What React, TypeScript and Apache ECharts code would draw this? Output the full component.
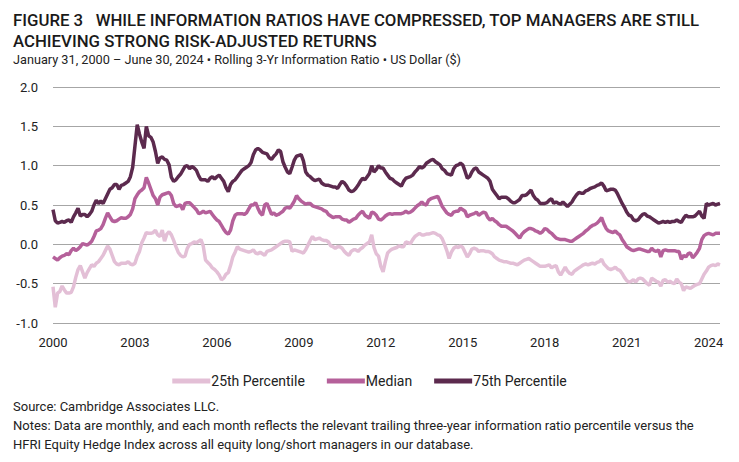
import React, { useEffect, useRef } from "react";
import * as echarts from "echarts";

const START_YEAR = 2000;
const END_YEAR = 2024;
const END_MONTH = 6;

// Rolling 3-yr information ratio, monthly Jan 2000 – Jun 2024
const p75: number[] = [
  0.44, 0.30, 0.27, 0.28, 0.29, 0.28, 0.30, 0.31, 0.28, 0.35, 0.40, 0.46,
  0.36, 0.38, 0.38, 0.35, 0.38, 0.42, 0.50, 0.56, 0.52, 0.55, 0.52, 0.58,
  0.64, 0.70, 0.72, 0.76, 0.76, 0.70, 0.75, 0.76, 0.78, 0.80, 0.86, 0.98,
  1.25, 1.52, 1.40, 1.30, 1.22, 1.50, 1.38, 1.36, 1.30, 1.18, 1.03, 1.10,
  1.11, 1.08, 1.07, 1.01, 0.85, 0.80, 0.82, 0.86, 0.89, 0.94, 0.99, 1.00,
  0.96, 0.99, 0.97, 0.94, 0.87, 0.82, 0.82, 0.82, 0.80, 0.84, 0.86, 0.83,
  0.86, 0.88, 0.84, 0.80, 0.72, 0.67, 0.76, 0.80, 0.82, 0.86, 0.90, 0.94,
  0.96, 0.98, 1.00, 1.04, 1.14, 1.20, 1.22, 1.20, 1.17, 1.16, 1.15, 1.10,
  1.08, 1.12, 1.15, 1.20, 1.18, 1.05, 0.98, 0.92, 0.90, 0.98, 1.07, 1.12,
  1.13, 1.14, 1.06, 0.92, 0.88, 0.86, 0.83, 0.81, 0.82, 0.83, 0.78, 0.76,
  0.75, 0.75, 0.74, 0.73, 0.73, 0.71, 0.76, 0.80, 0.78, 0.74, 0.69, 0.67,
  0.68, 0.71, 0.75, 0.80, 0.84, 0.82, 0.86, 0.90, 1.00, 0.92, 0.95, 1.00,
  0.97, 0.97, 0.92, 0.88, 0.84, 0.83, 0.80, 0.78, 0.76, 0.74, 0.80, 0.84,
  0.85, 0.86, 0.88, 0.92, 0.95, 0.99, 0.97, 0.99, 1.03, 1.05, 1.07, 1.08,
  1.05, 1.03, 1.01, 0.96, 0.94, 0.90, 0.89, 0.88, 0.96, 1.00, 1.01, 1.03,
  1.01, 0.93, 0.84, 0.86, 0.92, 0.96, 0.97, 0.92, 0.90, 0.88, 0.86, 0.84,
  0.80, 0.70, 0.66, 0.62, 0.58, 0.60, 0.60, 0.60, 0.58, 0.55, 0.53, 0.53,
  0.55, 0.57, 0.62, 0.62, 0.63, 0.66, 0.69, 0.62, 0.58, 0.56, 0.52, 0.52,
  0.52, 0.53, 0.56, 0.58, 0.52, 0.54, 0.52, 0.51, 0.54, 0.51, 0.48, 0.51,
  0.54, 0.59, 0.63, 0.66, 0.65, 0.65, 0.68, 0.69, 0.71, 0.72, 0.73, 0.75,
  0.76, 0.78, 0.74, 0.68, 0.69, 0.70, 0.70, 0.69, 0.64, 0.58, 0.52, 0.47,
  0.41, 0.37, 0.36, 0.31, 0.30, 0.31, 0.35, 0.38, 0.39, 0.36, 0.35, 0.33,
  0.31, 0.29, 0.27, 0.28, 0.29, 0.28, 0.29, 0.28, 0.29, 0.29, 0.31, 0.29,
  0.28, 0.33, 0.37, 0.35, 0.35, 0.35, 0.36, 0.39, 0.42, 0.36, 0.33, 0.52,
  0.50, 0.51, 0.52, 0.50, 0.51, 0.52,
];

const p50: number[] = [
  -0.16, -0.18, -0.20, -0.17, -0.15, -0.14, -0.12, -0.13, -0.08, -0.05, -0.08, -0.06,
  -0.03, 0.01, 0.00, -0.01, 0.01, 0.04, 0.10, 0.17, 0.18, 0.20, 0.25, 0.33,
  0.40, 0.35, 0.30, 0.29, 0.30, 0.32, 0.34, 0.33, 0.33, 0.35, 0.38, 0.45,
  0.58, 0.63, 0.67, 0.69, 0.72, 0.85, 0.78, 0.70, 0.62, 0.58, 0.50, 0.60,
  0.63, 0.64, 0.65, 0.66, 0.62, 0.52, 0.48, 0.49, 0.50, 0.44, 0.52, 0.53,
  0.53, 0.50, 0.47, 0.44, 0.39, 0.40, 0.42, 0.40, 0.41, 0.42, 0.38, 0.34,
  0.31, 0.29, 0.24, 0.19, 0.15, 0.13, 0.18, 0.30, 0.37, 0.39, 0.39, 0.39,
  0.38, 0.40, 0.45, 0.50, 0.50, 0.53, 0.46, 0.40, 0.37, 0.50, 0.52, 0.45,
  0.38, 0.40, 0.37, 0.38, 0.40, 0.42, 0.46, 0.47, 0.46, 0.50, 0.55, 0.62,
  0.58, 0.55, 0.53, 0.51, 0.52, 0.52, 0.49, 0.48, 0.47, 0.46, 0.45, 0.43,
  0.42, 0.38, 0.36, 0.34, 0.35, 0.35, 0.35, 0.32, 0.31, 0.31, 0.28, 0.30,
  0.32, 0.33, 0.37, 0.40, 0.42, 0.37, 0.35, 0.33, 0.41, 0.40, 0.37, 0.32,
  0.31, 0.33, 0.36, 0.38, 0.39, 0.38, 0.39, 0.39, 0.39, 0.39, 0.40, 0.42,
  0.40, 0.41, 0.43, 0.46, 0.49, 0.51, 0.54, 0.51, 0.50, 0.56, 0.58, 0.59,
  0.60, 0.61, 0.55, 0.48, 0.44, 0.40, 0.38, 0.37, 0.41, 0.42, 0.42, 0.46,
  0.44, 0.42, 0.35, 0.37, 0.38, 0.39, 0.41, 0.37, 0.39, 0.41, 0.40, 0.34,
  0.31, 0.33, 0.30, 0.28, 0.25, 0.23, 0.23, 0.23, 0.21, 0.19, 0.17, 0.14,
  0.11, 0.08, 0.13, 0.16, 0.18, 0.20, 0.20, 0.19, 0.17, 0.16, 0.14, 0.16,
  0.20, 0.19, 0.16, 0.14, 0.11, 0.08, 0.07, 0.06, 0.06, 0.06, 0.05, 0.04,
  0.04, 0.06, 0.08, 0.10, 0.12, 0.14, 0.17, 0.19, 0.22, 0.24, 0.25, 0.27,
  0.30, 0.34, 0.26, 0.20, 0.17, 0.16, 0.15, 0.17, 0.14, 0.12, 0.06, 0.02,
  -0.03, -0.05, -0.07, -0.08, -0.07, -0.06, -0.06, -0.07, -0.08, -0.09, -0.09, -0.05,
  -0.08, -0.09, -0.07, -0.16, -0.08, -0.07, -0.08, -0.08, -0.08, -0.08, -0.09, -0.09,
  -0.19, -0.14, -0.16, -0.12, -0.11, -0.17, -0.14, -0.10, -0.05, 0.06, 0.11, 0.13,
  0.14, 0.13, 0.12, 0.14, 0.14, 0.14,
];

const p25: number[] = [
  -0.54, -0.80, -0.62, -0.60, -0.53, -0.58, -0.62, -0.62, -0.61, -0.54, -0.42, -0.32,
  -0.27, -0.35, -0.43, -0.36, -0.31, -0.26, -0.28, -0.24, -0.22, -0.18, -0.14, -0.08,
  -0.02, -0.06, -0.14, -0.22, -0.25, -0.26, -0.24, -0.24, -0.24, -0.22, -0.25, -0.26,
  -0.24, -0.15, -0.09, 0.02, 0.08, 0.15, 0.14, 0.14, 0.15, 0.18, 0.12, 0.10,
  0.18, 0.04, 0.13, 0.16, 0.12, 0.05, -0.03, -0.10, -0.14, -0.16, -0.15, -0.05,
  0.00, 0.01, 0.03, 0.02, 0.04, 0.06, -0.02, -0.20, -0.23, -0.26, -0.30, -0.32,
  -0.35, -0.39, -0.45, -0.43, -0.38, -0.36, -0.27, -0.16, -0.10, -0.03, -0.06, -0.07,
  -0.08, -0.09, -0.10, -0.09, -0.07, -0.11, -0.12, -0.10, -0.12, -0.14, -0.09, -0.08,
  -0.07, -0.05, -0.03, -0.01, 0.01, 0.03, 0.04, 0.04, 0.03, -0.09, -0.07, -0.08,
  -0.09, -0.10, -0.11, -0.07, -0.01, 0.05, 0.10, 0.06, 0.07, 0.08, 0.06, 0.05,
  0.05, 0.03, -0.02, -0.03, -0.05, -0.03, -0.03, -0.05, -0.09, -0.12, -0.14, -0.09,
  -0.07, -0.07, -0.09, -0.06, -0.04, -0.01, 0.01, 0.03, 0.12, -0.04, -0.12, -0.15,
  -0.28, -0.35, -0.22, -0.11, -0.08, -0.06, -0.05, -0.04, -0.02, -0.03, -0.03, 0.03,
  0.02, 0.01, 0.06, 0.10, 0.12, 0.14, 0.12, 0.12, 0.13, 0.13, 0.14, 0.15,
  0.14, 0.12, 0.11, 0.07, 0.00, -0.08, -0.18, -0.10, -0.05, -0.03, -0.04, -0.02,
  -0.04, -0.10, -0.16, -0.12, -0.06, -0.05, -0.06, -0.09, -0.08, -0.08, -0.09, -0.09,
  -0.10, -0.12, -0.16, -0.18, -0.20, -0.21, -0.22, -0.22, -0.23, -0.24, -0.24, -0.25,
  -0.26, -0.24, -0.22, -0.20, -0.19, -0.18, -0.20, -0.22, -0.24, -0.26, -0.28, -0.28,
  -0.28, -0.27, -0.26, -0.30, -0.28, -0.27, -0.35, -0.39, -0.34, -0.29, -0.34, -0.37,
  -0.38, -0.34, -0.32, -0.30, -0.28, -0.26, -0.25, -0.26, -0.25, -0.24, -0.25, -0.23,
  -0.22, -0.19, -0.25, -0.28, -0.31, -0.32, -0.31, -0.29, -0.32, -0.33, -0.37, -0.42,
  -0.46, -0.48, -0.47, -0.45, -0.48, -0.44, -0.43, -0.44, -0.47, -0.50, -0.52, -0.43,
  -0.45, -0.47, -0.48, -0.53, -0.46, -0.45, -0.48, -0.47, -0.49, -0.50, -0.44, -0.48,
  -0.50, -0.59, -0.54, -0.55, -0.56, -0.54, -0.52, -0.51, -0.50, -0.44, -0.38, -0.34,
  -0.29, -0.27, -0.26, -0.27, -0.25, -0.26,
];

const seriesNames = ["25th Percentile", "Median", "75th Percentile"];
const seriesColors = ["#e3bfd6", "#b5609a", "#5c2a4e"];
const yTicks = { min: -1, max: 2, interval: 0.5 };
const labelYears = [2000, 2003, 2006, 2009, 2012, 2015, 2018, 2021, 2024];

const categories: string[] = [];
for (let y = START_YEAR; y <= END_YEAR; y++) {
  for (let m = 1; m <= 12; m++) {
    if (y === END_YEAR && m > END_MONTH) break;
    categories.push(`${y}-${String(m).padStart(2, "0")}`);
  }
}

const FONT = "Roboto, 'Noto Sans', sans-serif";

export default function App() {
  const ref = useRef<HTMLDivElement>(null);
  useEffect(() => {
    if (!ref.current) return;
    const chart = echarts.init(ref.current, undefined, { renderer: "svg" });
    const dataSets = [p25, p50, p75];
    chart.setOption({
      animation: false,
      backgroundColor: "#ffffff",
      textStyle: { fontFamily: FONT },
      grid: { left: 53, right: 19, top: 87, bottom: 139, containLabel: false },
      legend: {
        data: seriesNames,
        left: "center",
        top: 369,
        itemWidth: 38,
        itemHeight: 5,
        itemGap: 22,
        icon: "rect",
        textStyle: { fontSize: 14, color: "#222", fontFamily: FONT, padding: [0, 0, 0, -4] },
      },
      xAxis: {
        type: "category",
        data: categories,
        boundaryGap: false,
        axisLine: { show: false },
        axisTick: { show: false },
        splitLine: { show: false },
        axisLabel: {
          interval: (index: number, value: string) => {
            const [yy, mm] = value.split("-");
            return mm === "01" && labelYears.includes(Number(yy));
          },
          formatter: (value: string) => value.slice(0, 4),
          fontSize: 13,
          color: "#222",
          margin: 13,
          fontFamily: FONT,
        },
      },
      yAxis: {
        type: "value",
        min: yTicks.min,
        max: yTicks.max,
        interval: yTicks.interval,
        axisLine: { show: false },
        axisTick: { show: false },
        axisLabel: {
          formatter: (v: number) => v.toFixed(1),
          fontSize: 13,
          color: "#222",
          margin: 15,
          fontFamily: FONT,
        },
        splitLine: { lineStyle: { color: "#a6a6a6", width: 1 } },
      },
      series: seriesNames.map((name, i) => ({
        name,
        type: "line",
        data: dataSets[i],
        showSymbol: false,
        symbol: "none",
        smooth: false,
        color: seriesColors[i],
        lineStyle: { color: seriesColors[i], width: 3.5 },
        itemStyle: { color: seriesColors[i] },
        z: 2 + i,
      })),
      graphic: [
        {
          type: "text",
          left: 13,
          top: 11,
          style: {
            text: "FIGURE 3   WHILE INFORMATION RATIOS HAVE COMPRESSED, TOP MANAGERS ARE STILL",
            fontSize: 16.8,
            fontWeight: 500,
            fill: "#1a1a1a",
            fontFamily: FONT,
          },
        },
        {
          type: "text",
          left: 13,
          top: 32,
          style: {
            text: "ACHIEVING STRONG RISK-ADJUSTED RETURNS",
            fontSize: 16.8,
            fontWeight: 500,
            fill: "#1a1a1a",
            fontFamily: FONT,
          },
        },
        {
          type: "text",
          left: 13,
          top: 53,
          style: {
            text: "January 31, 2000 – June 30, 2024 • Rolling 3-Yr Information Ratio • US Dollar ($)",
            fontSize: 12.7,
            fill: "#222",
            fontFamily: FONT,
          },
        },
        {
          type: "text",
          left: 13,
          top: 400,
          style: {
            text: "Source: Cambridge Associates LLC.",
            fontSize: 13,
            fill: "#222",
            fontFamily: FONT,
          },
        },
        {
          type: "text",
          left: 13,
          top: 419,
          style: {
            text: "Notes: Data are monthly, and each month reflects the relevant trailing three-year information ratio percentile versus the",
            fontSize: 13,
            fill: "#222",
            fontFamily: FONT,
          },
        },
        {
          type: "text",
          left: 13,
          top: 438,
          style: {
            text: "HFRI Equity Hedge Index across all equity long/short managers in our database.",
            fontSize: 13,
            fill: "#222",
            fontFamily: FONT,
          },
        },
      ],
    });
    return () => chart.dispose();
  }, []);
  return (
    <div
      ref={ref}
      style={{ position: "fixed", left: 0, top: 0, width: 739, height: 462, background: "#fff" }}
    />
  );
}
